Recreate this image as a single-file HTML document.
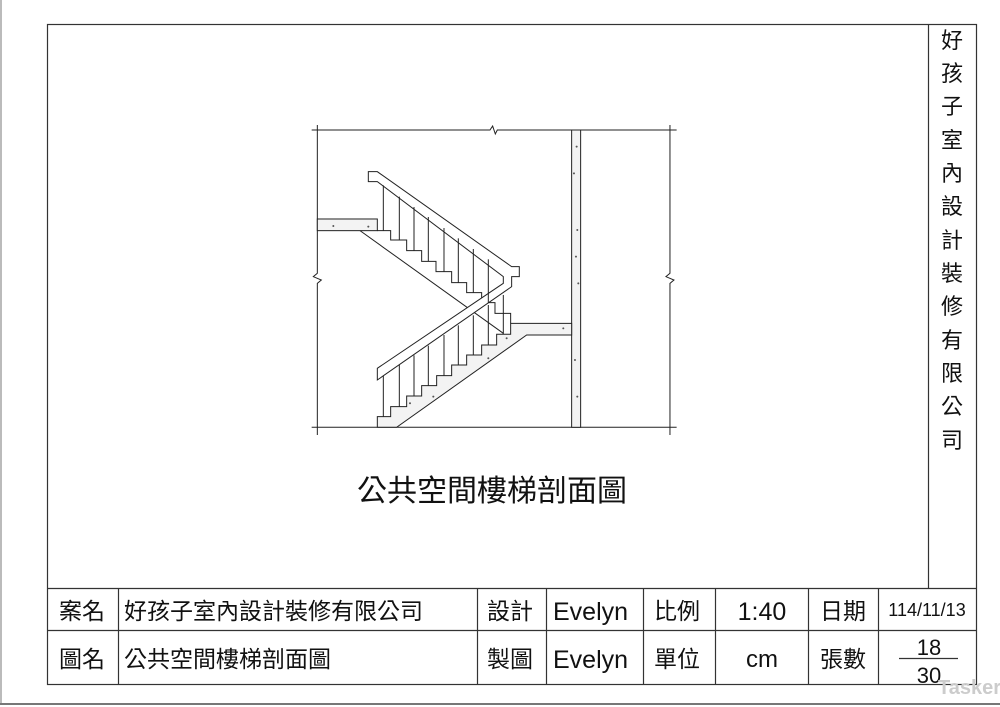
<!DOCTYPE html>
<html><head><meta charset="utf-8"><style>
body{margin:0;background:#fff;}
svg{display:block}
text{font-family:"Liberation Sans","Noto Sans CJK TC",sans-serif;fill:#111}
</style></head><body>
<svg width="1000" height="707" viewBox="0 0 1000 707" xmlns="http://www.w3.org/2000/svg">
<rect width="1000" height="707" fill="#fff"/>
<line x1="0" y1="704" x2="1000" y2="704" stroke="#777" stroke-width="2"/>
<line x1="1" y1="0" x2="1" y2="704" stroke="#777" stroke-width="1"/>
<g stroke="#333" stroke-width="1.2" fill="none">
<rect x="47.5" y="24.5" width="929" height="660"/>
<line x1="928.5" y1="24" x2="928.5" y2="588"/>
<line x1="47" y1="588.5" x2="977" y2="588.5"/>
<line x1="47" y1="630.5" x2="977" y2="630.5"/>
<line x1="118.5" y1="588" x2="118.5" y2="684"/>
<line x1="477.5" y1="588" x2="477.5" y2="684"/>
<line x1="546.5" y1="588" x2="546.5" y2="684"/>
<line x1="643.5" y1="588" x2="643.5" y2="684"/>
<line x1="715.5" y1="588" x2="715.5" y2="684"/>
<line x1="808.5" y1="588" x2="808.5" y2="684"/>
<line x1="878.5" y1="588" x2="878.5" y2="684"/>
<line x1="899" y1="658.5" x2="958" y2="658.5"/>
</g>
<g font-size="22" text-anchor="middle">
<text x="952" y="48">好</text><text x="952" y="81">孩</text><text x="952" y="114">子</text>
<text x="952" y="148">室</text><text x="952" y="181">內</text><text x="952" y="214">設</text>
<text x="952" y="248">計</text><text x="952" y="281">裝</text><text x="952" y="314">修</text>
<text x="952" y="348">有</text><text x="952" y="381">限</text><text x="952" y="414">公</text>
<text x="952" y="448">司</text>
</g>
<text x="492" y="501" font-size="30" text-anchor="middle">公共空間樓梯剖面圖</text>
<g font-size="23">
<text x="59" y="619">案名</text>
<text x="124" y="619">好孩子室內設計裝修有限公司</text>
<text x="487" y="619">設計</text>
<text x="553" y="620" font-size="25">Evelyn</text>
<text x="654" y="619">比例</text>
<text x="762" y="620" font-size="25" text-anchor="middle">1:40</text>
<text x="820" y="619">日期</text>
<text x="927" y="616" font-size="18" text-anchor="middle">114/11/13</text>
<text x="59" y="667">圖名</text>
<text x="124" y="667">公共空間樓梯剖面圖</text>
<text x="487" y="667">製圖</text>
<text x="553" y="668" font-size="25">Evelyn</text>
<text x="654" y="667">單位</text>
<text x="762" y="667" font-size="24" text-anchor="middle">cm</text>
<text x="820" y="667">張數</text>
<text x="929" y="655" font-size="22" text-anchor="middle">18</text>
<text x="929" y="683" font-size="22" text-anchor="middle">30</text>
</g>
<text x="938" y="694" font-size="20" font-weight="bold" fill="#ccc" style="fill:#ccc">Tasker</text>

<g transform="translate(300,120) scale(0.3333)" stroke="#222" stroke-width="3" fill="none">
<!-- frame lines -->
<polyline points="35,30 570,30 578,18 586,42 592,30 1130,30"/>
<polyline points="52,15 52,460 40,470 64,480 52,490 52,945"/>
<polyline points="1110,15 1110,460 1098,470 1122,480 1110,490 1110,945"/>
<line x1="35" y1="922" x2="1130" y2="922"/>
<!-- wall -->
<rect x="815" y="30" width="27" height="892" fill="#f3f3f3"/>
<!-- upper slab -->
<rect x="52" y="297" width="180" height="35" fill="#f3f3f3"/>
<!-- upper flight -->
<polyline points="232,332 272,332 272,360 320,360 320,392 365,392 365,424 408,424 408,455 455,455 455,488 500,488 500,518 545,518 545,548 585,548 585,580 632,580 632,610"/>
<line x1="180" y1="332" x2="610" y2="640"/>
<!-- lower flight with landing -->
<polygon fill="#f3f3f3" points="232,922 232,890 272,890 272,860 320,860 320,828 365,828 365,797 410,797 410,767 455,767 455,735 500,735 500,705 545,705 545,675 590,675 590,643 632,643 632,610 815,610 815,645 680,645 290,922"/>
<!-- upper rail -->
<polygon fill="#fff" points="205,155 232,155 635,440 658,440 658,470 635,470 635,500 232,780 232,745 610,490 610,470 232,185 205,185"/>
<!-- balusters upper -->
<g>
<line x1="250" y1="196" x2="250" y2="332"/><line x1="298" y1="230" x2="298" y2="360"/>
<line x1="342" y1="261" x2="342" y2="392"/><line x1="385" y1="291" x2="385" y2="424"/>
<line x1="432" y1="324" x2="432" y2="455"/><line x1="475" y1="355" x2="475" y2="488"/>
<line x1="520" y1="387" x2="520" y2="518"/><line x1="565" y1="418" x2="565" y2="548"/>
</g>
<g>
<line x1="250" y1="768" x2="250" y2="890"/><line x1="298" y1="735" x2="298" y2="860"/>
<line x1="342" y1="706" x2="342" y2="828"/><line x1="385" y1="677" x2="385" y2="797"/>
<line x1="432" y1="645" x2="432" y2="767"/><line x1="475" y1="616" x2="475" y2="735"/>
<line x1="520" y1="586" x2="520" y2="705"/><line x1="565" y1="555" x2="565" y2="675"/>
<line x1="610" y1="525" x2="610" y2="643"/>
</g>
<g fill="#555" stroke="none">
<circle cx="830" cy="80" r="3"/><circle cx="822" cy="160" r="3"/><circle cx="832" cy="330" r="3"/>
<circle cx="828" cy="410" r="3"/><circle cx="835" cy="490" r="3"/><circle cx="825" cy="720" r="3"/>
<circle cx="832" cy="830" r="3"/><circle cx="100" cy="318" r="3"/><circle cx="205" cy="320" r="3"/>
<circle cx="400" cy="830" r="3"/><circle cx="565" cy="715" r="3"/><circle cx="790" cy="625" r="3"/>
<circle cx="620" cy="655" r="3"/><circle cx="330" cy="850" r="3"/>
</g>
</g>
</svg>
</body></html>
